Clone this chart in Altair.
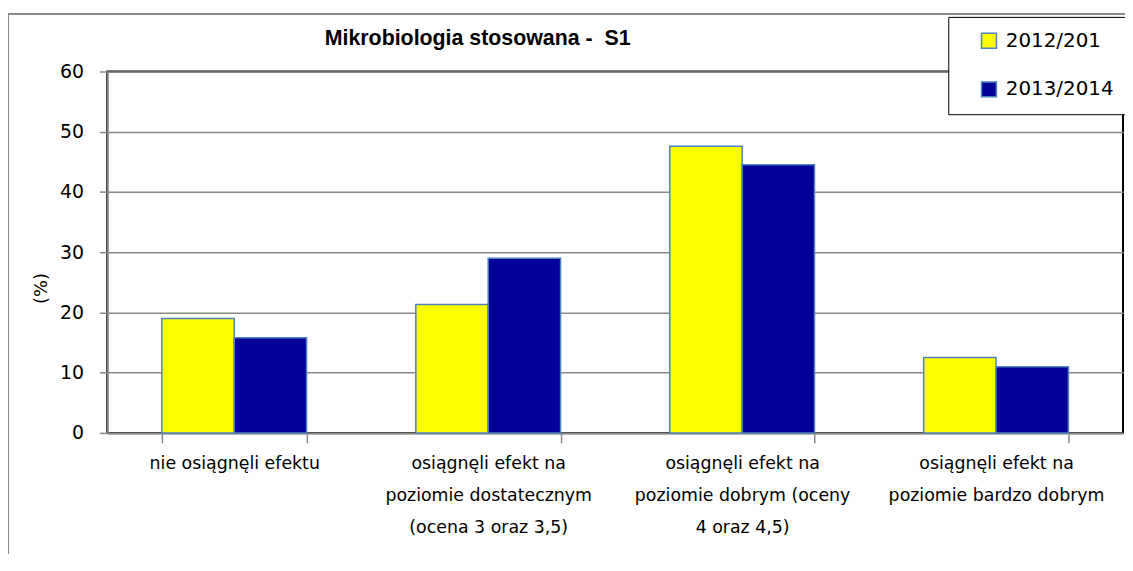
import altair as alt
import pandas as pd

title_text = "Mikrobiologia stosowana -\u00a0 S1"
categories = [
    "nie osiągnęli efektu",
    "osiągnęli efekt na|poziomie dostatecznym|(ocena 3 oraz 3,5)",
    "osiągnęli efekt na|poziomie dobrym (oceny|4 oraz 4,5)",
    "osiągnęli efekt na|poziomie bardzo dobrym",
]
series = ["2012/201", "2013/2014"]
values_2012 = [19.0, 21.3, 47.6, 12.5]
values_2013 = [15.8, 29.0, 44.5, 11.0]

rows = []
for c, a, b in zip(categories, values_2012, values_2013):
    rows.append({"cat": c, "series": series[0], "value": a})
    rows.append({"cat": c, "series": series[1], "value": b})
df = pd.DataFrame(rows)

W, H = 1023, 364

bars = alt.Chart(df).mark_bar(stroke="#4F81BD", strokeWidth=1.5).encode(
    x=alt.X(
        "cat:N",
        sort=categories,
        scale=alt.Scale(paddingInner=0.43, paddingOuter=0.215),
        axis=alt.Axis(
            title=None,
            labelAngle=0,
            labelExpr="split(datum.label, '|')",
            labelFont="DejaVu Sans",
            labelFontSize=17.5,
            labelColor="#000000",
            labelLineHeight=32,
            labelBaseline="top",
            labelPadding=12,
            labelLimit=300,
            tickBand="extent",
            tickSize=10,
            tickColor="#888888",
            tickWidth=1.5,
            domainColor="#888888",
            domainWidth=2,
            grid=False,
        ),
    ),
    xOffset=alt.XOffset("series:N", sort=series),
    y=alt.Y(
        "value:Q",
        scale=alt.Scale(domain=[0, 60]),
        axis=alt.Axis(
            title="(%)",
            titleFont="DejaVu Sans",
            titleFontSize=18,
            titleFontWeight="normal",
            titleColor="#000000",
            titleX=-66,
            titleY=218,
            titleAlign="center",
            titleBaseline="middle",
            values=[0, 10, 20, 30, 40, 50, 60],
            labelFont="DejaVu Sans",
            labelFontSize=19,
            labelColor="#000000",
            labelPadding=16,
            tickSize=8,
            tickColor="#888888",
            tickWidth=1.5,
            domainColor="#888888",
            domainWidth=1.5,
            gridColor="#888888",
            gridWidth=1.5,
        ),
    ),
    color=alt.Color(
        "series:N",
        sort=series,
        scale=alt.Scale(domain=series, range=["#FFFF00", "#000099"]),
        legend=alt.Legend(
            title=None,
            orient="none",
            legendX=847,
            legendY=-55,
            symbolType="square",
            symbolSize=225,
            symbolStrokeColor="#4F81BD",
            symbolStrokeWidth=1.5,
            symbolOffset=17,
            labelFont="DejaVu Sans",
            labelFontSize=20,
            labelColor="#000000",
            labelOffset=7,
            rowPadding=27,
            padding=14,
            strokeColor="#000000",
            fillColor="#FFFFFF",
            cornerRadius=0,
        ),
    ),
)

frame = alt.Chart(pd.DataFrame({"a": [0]})).mark_rect(
    fill=None, stroke="#888888", strokeWidth=2
).encode(
    x=alt.value(-100), x2=alt.value(1100),
    y=alt.value(-58), y2=alt.value(600),
)

title_mark = alt.Chart(pd.DataFrame({"t": [title_text]})).mark_text(
    font="Liberation Sans", fontSize=21.5, fontWeight="bold", color="#000000",
    align="center", baseline="middle",
).encode(text="t:N", x=alt.value(373), y=alt.value(-33))

chart = alt.layer(frame, bars, title_mark).properties(
    width=W,
    height=H,
    autosize=alt.AutoSizeParams(type="none"),
    padding={"left": 100, "top": 62, "right": 2, "bottom": 120},
).configure_view(stroke="#000000", strokeWidth=2).configure_axis(labelFontWeight="normal")

chart.save("out.html", embed_options={"renderer": "svg", "actions": False})
